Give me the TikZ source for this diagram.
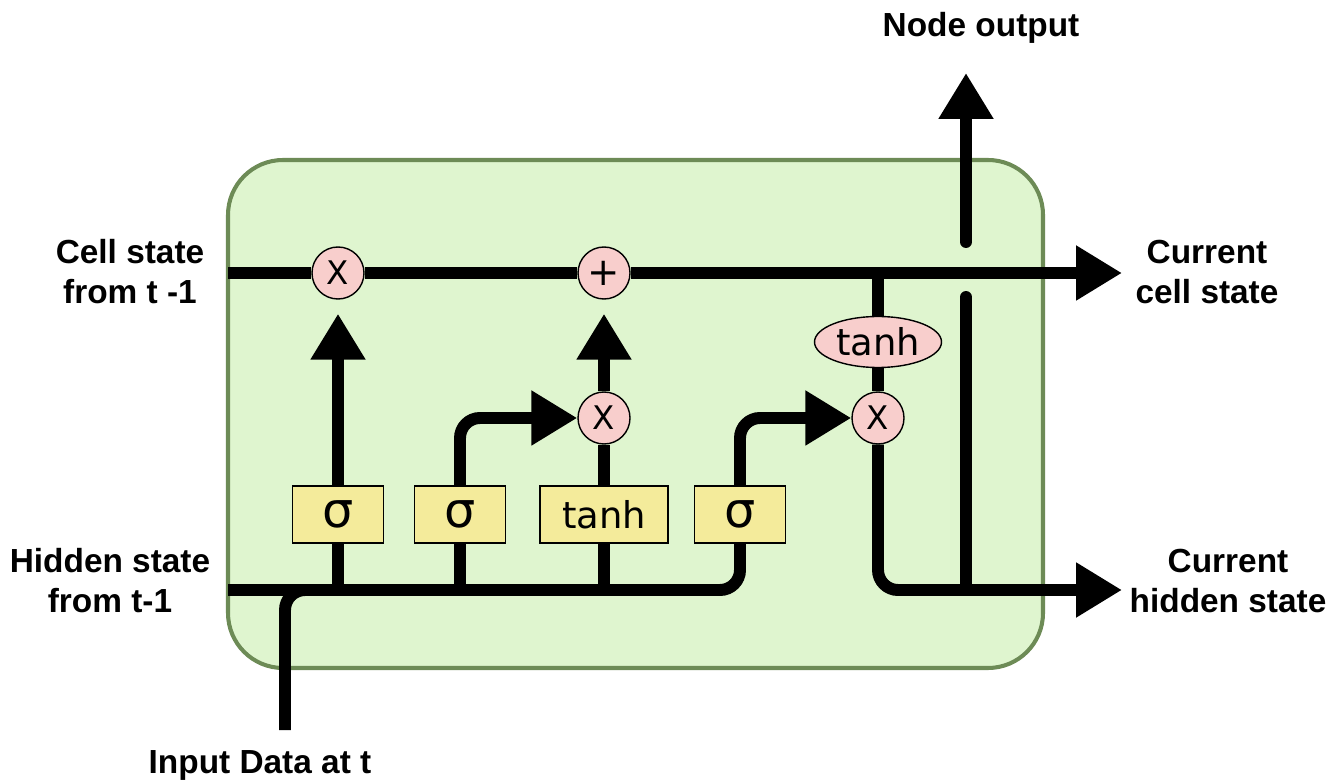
\documentclass[tikz,border=0pt]{standalone}
\usepackage{fontspec}
\setmainfont{Liberation Sans}
\newfontfamily\opfont{DejaVu Sans}
\usepackage{tikz}
\usetikzlibrary{arrows.meta, positioning, calc, shapes.geometric}

\definecolor{cellfill}{RGB}{223,245,207}
\definecolor{cellborder}{RGB}{109,139,86}
\definecolor{gatefill}{RGB}{244,235,155}
\definecolor{opfill}{RGB}{248,206,204}

\newcommand{\gatesigma}{{\fontsize{28}{28}\selectfont σ}}

\begin{document}
\begin{tikzpicture}[
    font=\fontsize{19}{22.7}\selectfont,
    >={Triangle[length=0.92cm, width=1.04cm]},
    flow/.style={
        line width=6.8pt
    },
    gate/.style={
        draw,
        line width=0.8pt,
        fill=gatefill,
        minimum width=1.82cm,
        minimum height=1.14cm,
        inner sep=0pt,
        font=\opfont\fontsize{21}{21}\selectfont
    },
    pointop/.style={
        draw,
        circle,
        line width=0.8pt,
        fill=opfill,
        minimum size=1.04cm,
        inner sep=0pt,
        font=\opfont\fontsize{18.5}{18.5}\selectfont
    },
    squash/.style={
        draw,
        ellipse,
        line width=0.8pt,
        fill=opfill,
        minimum width=2.54cm,
        minimum height=1.02cm,
        inner sep=0pt,
        font=\opfont\fontsize{21}{21}\selectfont
    },
    outer/.style={
        align=center,
        font=\fontsize{19}{22.7}\selectfont\bfseries
    }
]

\useasboundingbox (0,0) rectangle (26.82,15.64);

% Cell body
\draw[line width=2.3pt, draw=cellborder, fill=cellfill, rounded corners=1.1cm]
    (4.56,2.28) rectangle (20.86,12.44);

% Free ends of the state lines
\coordinate (cin) at (4.56,10.18);
\coordinate (cout) at (22.44,10.18);
\coordinate (hin) at (4.56,3.84);
\coordinate (hout) at (22.44,3.84);
\coordinate (xin) at (5.70,1.04);
\coordinate (nout) at (19.32,14.18);
\coordinate (gaptop) at (19.32,10.80);
\coordinate (gapbot) at (19.32,9.70);

% Pointwise operations
\node[pointop] (forget) at (6.76,10.18) {X};
\node[pointop, font=\opfont\fontsize{22}{22}\selectfont] (add) at (12.08,10.18) {+};
\node[pointop] (inmul) at (12.08,7.28) {X};
\node[pointop] (outmul) at (17.56,7.28) {X};
\node[squash] (celltanh) at (17.56,8.80) {tanh};

% Gates
\node[gate] (fgate) at (6.76,5.35) {\gatesigma};
\node[gate] (igate) at (9.20,5.35) {\gatesigma};
\node[gate, minimum width=2.56cm] (cand) at (12.08,5.35) {tanh};
\node[gate] (ogate) at (14.80,5.35) {\gatesigma};

% Cell state
\draw[flow] (cin) -- (forget);
\draw[flow] (forget) -- (add);
\draw[flow, ->] (add) -- (cout);

% Hidden state and input
\draw[flow, rounded corners=0.4cm] (hin) -- (hin -| ogate.south) -- (ogate.south);
\draw[flow, rounded corners=0.4cm] (xin) -- (xin |- hin) -- (hin -| fgate.south);
\foreach \g in {fgate, igate, cand}
    \draw[flow] (hin -| \g.south) -- (\g.south);

% Gate outputs
\draw[flow, ->, shorten >=0.28cm] (fgate) -- (forget);
\draw[flow, ->, rounded corners=0.4cm] (igate.north) -- (igate.north |- inmul) -- (inmul.west);
\draw[flow] (cand) -- (inmul);
\draw[flow, ->, shorten >=0.28cm] (inmul) -- (add);
\draw[flow, ->, rounded corners=0.4cm] (ogate.north) -- (ogate.north |- outmul) -- (outmul.west);

% Output
\draw[flow] (add -| celltanh) -- (celltanh);
\draw[flow] (celltanh) -- (outmul);
\draw[flow, ->, rounded corners=0.4cm] (outmul.south) -- (outmul.south |- hout) -- (hout);
\draw[flow, line cap=round] (gapbot) -- (gapbot |- hout);
\draw[flow, line cap=round, ->] (gaptop) -- (nout);

% Labels
\node[outer] (nodeout) at (19.62,15.08) {Node output};
\node[outer] (cellprev) at (2.60,10.20) {Cell state\\from t -1};
\node[outer] (hidprev) at (2.20,4.02) {Hidden state\\from t-1};
\node[outer] (cellcur) at (24.14,10.20) {Current\\cell state};
\node[outer] (hidcur) at (24.56,4.02) {Current\\hidden state};
\node[outer] (input) at (5.20,0.34) {Input Data at t};

\end{tikzpicture}
\end{document}
